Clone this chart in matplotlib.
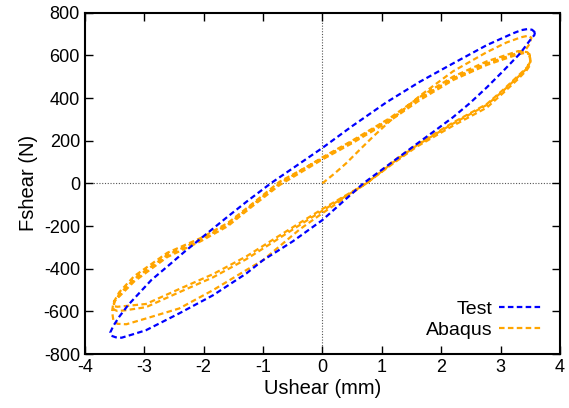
import matplotlib
matplotlib.use('Agg')
import matplotlib.pyplot as plt

plt.rcParams['font.family'] = ['Liberation Sans', 'DejaVu Sans']
plt.rcParams['axes.unicode_minus'] = False

# Test: one measured loop (counter-clockwise, starting at the right tip)
test_x = [3.58, 3.53, 3.45, 3.35, 3.21, 2.77, 2.20, 1.64, 1.08, 0.50, 0.00, -0.45, -0.86,
          -1.25, -1.59, -1.90, -2.32, -2.57, -2.88, -3.27, -3.42, -3.52, -3.57, -3.55, -3.48,
          -3.38, -3.20, -2.97, -2.41, -1.84, -1.28, -1.00, -0.50, 0.00, 0.35, 0.69, 1.30,
          1.59, 1.92, 2.20, 2.48, 2.77, 3.05, 3.33, 3.50, 3.57, 3.58]
test_y = [708, 720, 723, 718, 703, 648, 562, 476, 380, 268, 166, 80, 2,
          -80, -155, -225, -320, -380, -453, -570, -625, -668, -698, -714, -721,
          -723, -708, -688, -609, -524, -422, -360, -272, -172, -85, 0, 125,
          185, 252, 310, 375, 450, 528, 609, 672, 695, 708]

# Abaqus: initial loading from origin, then three cycles
init_x = [0.00, 0.20, 0.40, 0.62, 0.85, 1.13, 1.64, 2.20, 2.77, 3.10, 3.35, 3.47, 3.52, 3.48, 3.42]
init_y = [0, 45, 94, 155, 218, 290, 410, 525, 615, 660, 685, 692, 682, 650, 625]

cyc1_x = [3.30, 2.77, 2.20, 1.64, 1.13, 0.50, 0.00, -0.72, -1.20, -1.59, -2.04, -2.61, -3.17,
          -3.42, -3.52, -3.54, -3.52, -3.45, -3.30, -2.97, -2.41, -1.84, -1.28, -1.00, -0.38,
          0.00, 0.74, 1.20, 1.59, 2.20, 2.77, 3.05, 3.30, 3.44, 3.50, 3.50, 3.45]
cyc1_y = [612, 562, 492, 398, 300, 195, 117, 8, -100, -185, -255, -325, -435,
          -510, -560, -600, -640, -658, -660, -633, -586, -500, -406, -360, -215,
          -140, 0, 95, 172, 270, 355, 425, 490, 530, 555, 600, 615]

cyc2_x = [3.30, 2.77, 2.20, 1.64, 1.13, 0.50, 0.00, -0.72, -1.20, -1.59, -2.04, -2.61, -3.17,
          -3.42, -3.50, -3.52, -3.45, -3.33, -2.97, -2.41, -1.84, -1.28, -0.80, -0.38, 0.00,
          0.74, 1.20, 1.59, 2.20, 2.77, 3.05, 3.30, 3.45, 3.50, 3.49, 3.42]
cyc2_y = [620, 572, 500, 405, 305, 200, 122, 0, -105, -192, -262, -335, -448,
          -520, -555, -590, -598, -595, -580, -510, -440, -355, -270, -195, -128,
          0, 100, 178, 280, 368, 435, 500, 540, 570, 605, 612]

cyc3_x = [3.30, 2.77, 2.20, 1.64, 1.13, 0.50, 0.00, -0.72, -1.20, -1.59, -2.04, -2.61, -3.17,
          -3.42, -3.50, -3.52, -3.45, -3.33, -2.97, -2.41, -1.84, -1.28, -0.80, -0.38, 0.00,
          0.74, 1.20, 1.59, 2.20, 2.77, 3.05, 3.30, 3.45, 3.50, 3.49]
cyc3_y = [605, 555, 484, 390, 292, 188, 112, -8, -112, -200, -270, -345, -460,
          -530, -550, -575, -578, -575, -565, -495, -425, -342, -258, -185, -120,
          0, 105, 182, 285, 372, 440, 505, 545, 575, 598]

abaqus_x = init_x + cyc1_x + cyc2_x + cyc3_x
abaqus_y = init_y + cyc1_y + cyc2_y + cyc3_y

fig = plt.figure(figsize=(5.69, 4.08), dpi=100)
ax = fig.add_axes([0.149, 0.132, 0.835, 0.837])

ax.axhline(0, color='#555555', lw=0.8, ls=(0, (1, 1.5)), zorder=1)
ax.axvline(0, color='#555555', lw=0.8, ls=(0, (1, 1.5)), zorder=1)

ax.plot(test_x, test_y, color='#0000ff', lw=1.6, dashes=(2.5, 1.5), label='Test', zorder=3)
ax.plot(abaqus_x, abaqus_y, color='#ffa500', lw=1.6, dashes=(2.5, 1.5), label='Abaqus', zorder=2)

ax.set_xlim(-4, 4)
ax.set_ylim(-800, 800)
ax.set_xticks(range(-4, 5))
ax.set_yticks(range(-800, 801, 200))
ax.tick_params(direction='in', length=6, width=1, top=True, right=True, labelsize=13)
for s in ax.spines.values():
    s.set_linewidth(1.5)

ax.set_xlabel('Ushear (mm)', fontsize=14.5, labelpad=2)
ax.set_ylabel('Fshear (N)', fontsize=14.5, labelpad=4)

ax.legend(loc='lower right', bbox_to_anchor=(0.962, 0.045), frameon=False, markerfirst=False,
          fontsize=14, handlelength=2.2, handletextpad=0.35, labelspacing=0.15,
          borderpad=0, borderaxespad=0)

fig.savefig('out.png', dpi=100)
